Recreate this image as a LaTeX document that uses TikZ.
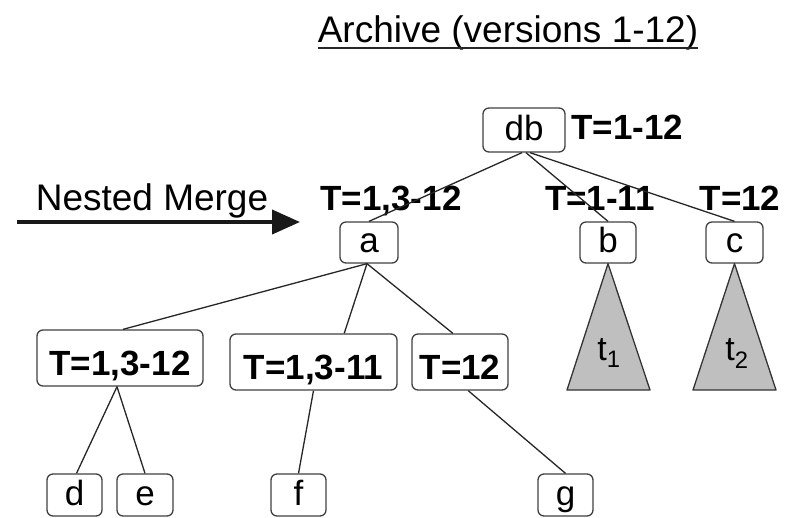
\documentclass[tikz,border=0pt]{standalone}
\usepackage{fontspec}
\setmainfont{Liberation Sans}
\usetikzlibrary{arrows.meta,calc}

\tikzset{
  box/.style={draw=black!75, line width=1.3pt, rounded corners=6pt, inner sep=0pt,
    font=\fontsize{35}{42}\selectfont, text height=25pt, text depth=5pt},
  tbox/.style={box, font=\fontsize{35}{42}\selectfont\bfseries, text height=34pt, text depth=0pt},
  lab/.style={inner sep=0pt, font=\fontsize{35}{42}\selectfont\bfseries, anchor=base},
  edge/.style={draw=black!85, line width=1.3pt},
  subtree/.style={draw=black!80, line width=1.3pt, fill=black!25, line join=round},
}

\begin{document}
\begin{tikzpicture}[x=1pt, y=-1pt]
\useasboundingbox (0,0) rectangle (797,517);

% heading
\node[inner sep=0pt, anchor=base, font=\fontsize{37}{44}\selectfont] (title) at (508,42) {Archive (versions 1-12)};
\draw[line width=2pt, black!85] ([yshift=-6pt]title.base west) -- ([yshift=-6pt]title.base east);

% merge arrow
\coordinate (nmA) at (17,222);
\coordinate (nmB) at (300,222);
\draw[line width=4pt, black!90, -{Triangle[length=28pt,width=24pt]}] (nmA) -- (nmB);
\node[inner sep=0pt, anchor=base, font=\fontsize{37}{44}\selectfont] (nmtext) at (152,210) {Nested Merge};

% root
\node[box, minimum width=82pt, minimum height=44pt] (db) at (524,130) {db};
\node[lab, anchor=base west] (Ldb) at (571,139) {T=1-12};

% second level
\node[box, minimum width=58pt, minimum height=41pt] (a) at (369,242.5) {a};
\node[box, minimum width=56pt, minimum height=41pt] (b) at (608,242.5) {b};
\node[box, minimum width=57pt, minimum height=41pt] (c) at (734.5,242.5) {c};
\node[lab] (La) at (391,210) {T=1,3-12};
\node[lab] (Lb) at (600,210) {T=1-11};
\node[lab] (Lc) at (740,210) {T=12};

% subtrees below b and c
\draw[subtree] (b.south) -- (567,390) -- (650,390) -- cycle;
\draw[subtree] (c.south) -- (693,390) -- (776,390) -- cycle;
\node[inner sep=0pt, anchor=base, font=\fontsize{34}{40}\selectfont] (t1) at (609,360) {t\textsubscript{1}};
\node[inner sep=0pt, anchor=base, font=\fontsize{34}{40}\selectfont] (t2) at (737,360) {t\textsubscript{2}};

% timestamp nodes under a
\node[tbox, minimum width=166pt, minimum height=56pt] (n1) at (120,358) {T=1,3-12};
\node[tbox, minimum width=167pt, minimum height=56pt] (n2) at (313.5,362) {T=1,3-11};
\node[tbox, minimum width=96pt, minimum height=56pt] (n3) at (460,362) {T=12};

% leaves
\node[box, minimum width=55pt, minimum height=42pt] (d) at (74.5,495) {d};
\node[box, minimum width=56pt, minimum height=42pt] (e) at (145,495) {e};
\node[box, minimum width=55pt, minimum height=42pt] (f) at (298.5,495) {f};
\node[box, minimum width=55pt, minimum height=42pt] (g) at (565.5,495) {g};

% connectors
\draw[edge] ([xshift=-2pt]db.south) -- (a.north);
\draw[edge] ([xshift=2pt]db.south) -- (b.north);
\draw[edge] ([xshift=6pt]db.south) -- (c.north);
\draw[edge] ([xshift=-2pt]a.south) -- (n1.84);
\draw[edge] ([xshift=-2pt]a.south) -- (n2.43);
\draw[edge] ([xshift=-2pt]a.south) -- (n3.104);
\draw[edge] ([xshift=-3pt]n1.south) -- ([xshift=2pt]d.north);
\draw[edge] ([xshift=-3pt]n1.south) -- (e.north);
\draw[edge] (n2.south) -- (f.north);
\draw[edge] (n3.-74) -- (g.north);
\end{tikzpicture}
\end{document}
